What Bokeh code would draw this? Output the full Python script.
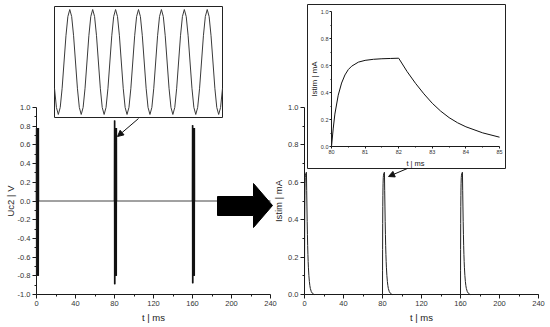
import numpy as np
from bokeh.plotting import figure
from bokeh.models import (Range1d, FixedTicker, PrintfTickFormatter, LinearAxis,
                          Arrow, NormalHead, Label)
from bokeh.embed import file_html
from bokeh.resources import INLINE

W, H = 550, 327
FONT = "Liberation Sans"
AXC = "#1a1a1a"
TXT = "#333333"

# ---------------- data ----------------
t_ticks = [0, 40, 80, 120, 160, 200, 240]
t_minor = [20, 60, 100, 140, 180, 220]
uc_ticks = [-1.0, -0.8, -0.6, -0.4, -0.2, 0.0, 0.2, 0.4, 0.6, 0.8, 1.0]
uc_minor = [-0.9, -0.7, -0.5, -0.3, -0.1, 0.1, 0.3, 0.5, 0.7, 0.9]
i_ticks = [0.0, 0.2, 0.4, 0.6, 0.8, 1.0]
i_minor = [0.1, 0.3, 0.5, 0.7, 0.9]
ins_t_ticks = [80, 81, 82, 83, 84, 85]
ins_t_minor = [80.5, 81.5, 82.5, 83.5, 84.5]

# Uc2 bursts (start times in ms, burst sampled every 0.1 ms)
burst_starts = [0, 80, 160]
burst_dt = [0.0, 0.1, 0.2, 0.3, 0.4, 0.5, 0.6, 0.7, 0.8, 0.9, 1.0,
            1.1, 1.2, 1.3, 1.4, 1.5, 1.6, 1.7, 1.8, 1.9, 2.0]
burst_v0 = [0.0, 0.78, -0.80, 0.78, -0.80, 0.78, -0.80, 0.78, -0.80, 0.78, -0.80,
            0.78, -0.80, 0.78, -0.80, 0.78, -0.80, 0.78, -0.80, 0.78, 0.0]
burst_v1 = [0.0, 0.86, -0.89, 0.78, -0.80, 0.78, -0.80, 0.78, -0.80, 0.78, -0.80,
            0.78, -0.80, 0.78, -0.80, 0.78, -0.80, 0.78, -0.80, 0.78, 0.0]
burst_v2 = [0.0, 0.81, -0.88, 0.78, -0.80, 0.78, -0.80, 0.78, -0.80, 0.78, -0.80,
            0.78, -0.80, 0.78, -0.80, 0.78, -0.80, 0.78, -0.80, 0.78, 0.0]
burst_vals = [burst_v0, burst_v1, burst_v2]
t_end = 240

# Zoomed burst (left inset, sampled every 0.01 ms from 79.98 ms to 80.86 ms)
ins_sine_t0 = 79.98
ins_sine_v = [-0.39, -0.675,
              -0.78, -0.675, -0.39, 0.0, 0.39, 0.675, 0.78, 0.675, 0.39, 0.0, -0.39, -0.675,
              -0.78, -0.675, -0.39, 0.0, 0.39, 0.675, 0.78, 0.675, 0.39, 0.0, -0.39, -0.675,
              -0.78, -0.675, -0.39, 0.0, 0.39, 0.675, 0.78, 0.675, 0.39, 0.0, -0.39, -0.675,
              -0.78, -0.675, -0.39, 0.0, 0.39, 0.675, 0.78, 0.675, 0.39, 0.0, -0.39, -0.675,
              -0.78, -0.675, -0.39, 0.0, 0.39, 0.675, 0.78, 0.675, 0.39, 0.0, -0.39, -0.675,
              -0.78, -0.675, -0.39, 0.0, 0.39, 0.675, 0.78, 0.675, 0.39, 0.0, -0.39, -0.675,
              -0.78, -0.675, -0.39, 0.0, 0.39, 0.675, 0.78, 0.675, 0.39, 0.0, -0.39, -0.675,
              -0.78, -0.675, -0.39]

# Istim pulses
pulse_starts = [0, 80, 160]
pulse_dt = [0.0, 0.05, 0.1, 0.2, 0.3, 0.4, 0.5, 0.6, 0.8, 1.0, 1.25, 1.5, 1.75, 2.0,
            2.25, 2.5, 2.75, 3.0, 3.25, 3.5, 3.75, 4.0, 4.5, 5.0, 5.5, 6.0, 7.0, 8.0, 9.0, 10.0]
pulse_v = [0.0, 0.13, 0.24, 0.38, 0.47, 0.53, 0.57, 0.595, 0.625, 0.638, 0.646, 0.650, 0.652, 0.654,
           0.555, 0.468, 0.39, 0.32, 0.262, 0.214, 0.176, 0.146, 0.101, 0.069, 0.047, 0.032,
           0.015, 0.007, 0.003, 0.0]
inset_pulse_start = 80
inset_window = (80, 85)

# ---------------- series assembly ----------------
uc_t, uc_v = [], []
for s, vals in zip(burst_starts, burst_vals):
    uc_t += [s + d for d in burst_dt]
    uc_v += vals
uc_t.append(t_end)
uc_v.append(0.0)

is_t, is_v = [], []
for s in pulse_starts:
    is_t += [s + d for d in pulse_dt]
    is_v += pulse_v
is_t.append(t_end)
is_v.append(0.0)

sine_t = [round(ins_sine_t0 + 0.01 * k, 3) for k in range(len(ins_sine_v))]

zp_t = [inset_pulse_start + d for d in pulse_dt if inset_pulse_start + d <= inset_window[1]]
zp_v = [v for d, v in zip(pulse_dt, pulse_v) if inset_pulse_start + d <= inset_window[1]]

# ---------------- layout (canvas pixels, top-down) ----------------
# name: (px_left, px_right, data_x0, data_x1, py_top, py_bottom, data_y_bottom, data_y_top)
panels = {
    "L":  (36, 270, 0, 240, 107, 294, -1.0, 1.0),
    "R":  (304, 538, 0, 240, 107, 294, 0.0, 1.0),
    "LI": (54, 222, ins_sine_t0, sine_t[-1], 6, 117, -0.825, 0.825),
    "RI": (331, 499, inset_window[0], inset_window[1], 11, 146, 0.0, 1.0),
}
LI_BOX = (54, 222, 6, 117)
RI_BOX = (307, 505, 4, 168)

xr, yr = {}, {}
for name, (px0, px1, d0, d1, pt, pb, e0, e1) in panels.items():
    kx = (d1 - d0) / (px1 - px0)
    xr[name] = Range1d(d0 - px0 * kx, d1 + (W - px1) * kx)
    ky = (e1 - e0) / (pb - pt)
    yr[name] = Range1d(e0 - (H - pb) * ky, e1 + pt * ky)

p = figure(width=W, height=H, x_range=Range1d(0, W), y_range=Range1d(H, 0),
           output_backend="svg", toolbar_location=None, x_axis_type=None, y_axis_type=None,
           min_border=0, outline_line_color=None, background_fill_color="white",
           border_fill_color="white")
p.extra_x_ranges = xr
p.extra_y_ranges = yr


def style_axis(ax, tick_size, label_size, tick_out, minor_out, standoff, label_standoff):
    ax.axis_line_color = AXC
    ax.major_tick_line_color = AXC
    ax.minor_tick_line_color = AXC
    ax.major_tick_out = tick_out
    ax.major_tick_in = 0
    ax.minor_tick_out = minor_out
    ax.minor_tick_in = 0
    ax.major_label_text_font = FONT
    ax.major_label_text_font_size = tick_size
    ax.major_label_text_color = TXT
    ax.major_label_standoff = standoff
    ax.axis_label_text_font = FONT
    ax.axis_label_text_font_style = "normal"
    ax.axis_label_text_font_size = label_size
    ax.axis_label_text_color = "#222222"
    ax.axis_label_standoff = label_standoff


def add_axes(name, xticks, xminor, yticks, yminor, xlabel, ylabel, xsizes, ysizes):
    px0, px1, d0, d1, pt, pb, e0, e1 = panels[name]
    xa = LinearAxis(x_range_name=name, y_range_name=name, fixed_location=e0, bounds=(d0, d1),
                    ticker=FixedTicker(ticks=xticks, minor_ticks=xminor), axis_label=xlabel)
    style_axis(xa, *xsizes)
    p.add_layout(xa, "below")
    ya = LinearAxis(x_range_name=name, y_range_name=name, fixed_location=d0, bounds=(e0, e1),
                    ticker=FixedTicker(ticks=yticks, minor_ticks=yminor),
                    formatter=PrintfTickFormatter(format="%.1f"), axis_label=ylabel)
    style_axis(ya, *ysizes)
    p.add_layout(ya, "left")


def side_label(text, x, name, size):
    pt, pb = panels[name][4], panels[name][5]
    p.add_layout(Label(x=x, y=(pt + pb) / 2, text=text, angle=np.pi / 2,
                       text_align="center", text_baseline="middle", text_font=FONT,
                       text_font_size=size, text_color="#222222"))


MAIN_X = ("7.5px", "9.5px", 4, 2, 2, 3)
MAIN_Y = ("7.5px", "9.5px", 4, 2, 2, 1)
SMALL_X = ("5.5px", "7.5px", 2, 1, 1, 2)
SMALL_Y = ("5.5px", "8px", 2, 1, 1, 2)

# main plots
p.line(uc_t, uc_v, x_range_name="L", y_range_name="L", line_color="#444444", line_width=1)
for s, vals in zip(burst_starts, burst_vals):
    p.line([s + d for d in burst_dt], vals, x_range_name="L", y_range_name="L",
           line_color="#111111", line_width=1.6)
p.line(is_t, is_v, x_range_name="R", y_range_name="R", line_color="#222222", line_width=1)
add_axes("L", t_ticks, t_minor, uc_ticks, uc_minor, "t | ms", None, MAIN_X, MAIN_Y)
add_axes("R", t_ticks, t_minor, i_ticks, i_minor, "t | ms", "Istim | mA", MAIN_X, MAIN_Y)
side_label("Uc2 | V", 10, "L", "9.5px")

# inset boxes
p.quad(left=[LI_BOX[0], RI_BOX[0]], right=[LI_BOX[1], RI_BOX[1]],
       top=[LI_BOX[2], RI_BOX[2]], bottom=[LI_BOX[3], RI_BOX[3]],
       fill_color="white", line_color="#222222", line_width=1)

# inset curves
p.line(sine_t, ins_sine_v, x_range_name="LI", y_range_name="LI", line_color="#3a3a3a", line_width=1)
p.line(zp_t, zp_v, x_range_name="RI", y_range_name="RI", line_color="#111111", line_width=1)
add_axes("RI", ins_t_ticks, ins_t_minor, i_ticks, i_minor, "t | ms", None, SMALL_X, SMALL_Y)
side_label("Istim | mA", 314, "RI", "8px")

# pointer arrows
p.add_layout(Arrow(end=NormalHead(size=6, fill_color="#111111", line_color="#111111"),
                   x_start=104.6, y_start=0.882, x_end=83.1, y_end=0.69,
                   x_range_name="L", y_range_name="L", line_color="#111111", line_width=1))
p.add_layout(Arrow(end=NormalHead(size=6, fill_color="#111111", line_color="#111111"),
                   x_start=105.6, y_start=0.674, x_end=86.2, y_end=0.631,
                   x_range_name="R", y_range_name="R", line_color="#111111", line_width=1))

# big block arrow between the panels
p.patch([217, 253, 253, 272, 253, 253, 217], [196, 196, 183, 205, 227, 215, 215],
        fill_color="black", line_color="black")

open("out.html", "w").write(file_html(p, INLINE))
